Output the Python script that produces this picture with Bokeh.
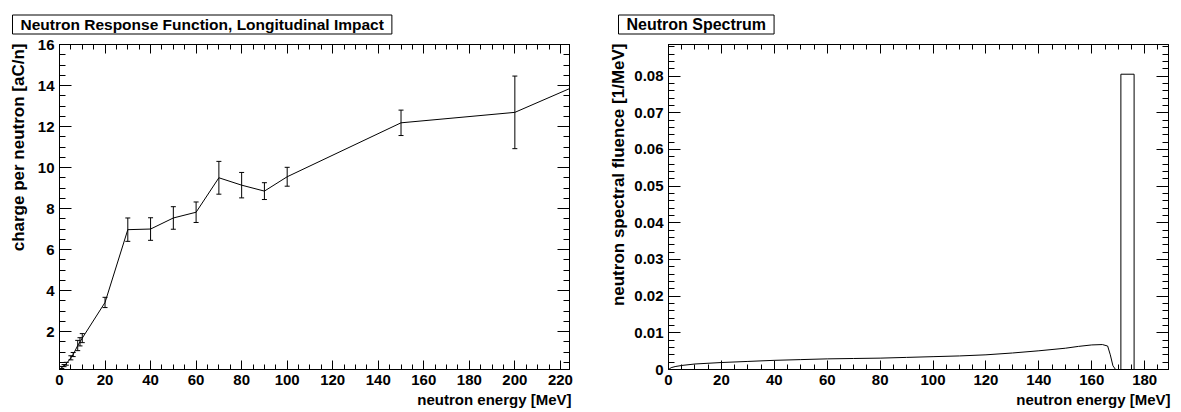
from bokeh.plotting import figure
from bokeh.layouts import row
from bokeh.models import (Range1d, FixedTicker, LinearAxis, Title,
                          CustomJSTickFormatter, ColumnDataSource)
from bokeh.embed import file_html
from bokeh.resources import INLINE

# ---------------- data ----------------
# Neutron response function (longitudinal impact)
resp_energy = [1, 2, 3, 5, 6, 8, 9, 10, 20, 30, 40, 50, 60, 70, 80, 90, 100, 150, 200, 250]
resp_charge = [0.25, 0.34, 0.43, 0.72, 0.88, 1.32, 1.50, 1.68, 3.42, 6.97, 7.00, 7.54, 7.82,
               9.50, 9.14, 8.85, 9.55, 12.18, 12.69, 15.10]
resp_error = [0.05, 0.05, 0.07, 0.10, 0.10, 0.25, 0.20, 0.22, 0.25, 0.57, 0.55, 0.55, 0.50,
              0.80, 0.62, 0.41, 0.46, 0.62, 1.77, 1.00]

# Neutron spectrum (continuum) and the narrow peak bin
spec_energy = [0, 1, 2.5, 5, 10, 20, 30, 40, 50, 60, 70, 80, 90, 100, 110, 120, 130, 140,
               150, 155, 160, 164, 166, 167, 168, 169]
spec_fluence = [0.0, 0.0005, 0.0008, 0.0011, 0.0015, 0.0019, 0.0022, 0.0025, 0.0027, 0.0029,
                0.0030, 0.0031, 0.0033, 0.0035, 0.0037, 0.0040, 0.0045, 0.0051, 0.0058,
                0.0063, 0.0067, 0.0068, 0.0064, 0.0040, 0.0010, 0.0]
peak_low = [171]
peak_high = [176]
peak_value = [0.0805]

left_xticks = [0, 20, 40, 60, 80, 100, 120, 140, 160, 180, 200, 220]
left_yticks = [2, 4, 6, 8, 10, 12, 14, 16]
right_xticks = [0, 20, 40, 60, 80, 100, 120, 140, 160, 180]
right_yticks = [0, 0.01, 0.02, 0.03, 0.04, 0.05, 0.06, 0.07, 0.08]

FONT = "Liberation Sans"
BLANK = CustomJSTickFormatter(code="return '';")


def style_axis(ax, ticker, tick_in, minor_in, show_labels=True, fmt=None):
    ax.ticker = ticker
    ax.major_tick_in = tick_in
    ax.major_tick_out = 0
    ax.minor_tick_in = minor_in
    ax.minor_tick_out = 0
    ax.axis_line_color = "black"
    ax.major_tick_line_color = "black"
    ax.minor_tick_line_color = "black"
    ax.major_label_text_font = FONT
    ax.major_label_text_font_style = "bold"
    ax.major_label_text_color = "black"
    ax.major_label_text_font_size = "15px"
    ax.major_label_standoff = 5
    if show_labels:
        if fmt is not None:
            ax.formatter = fmt
    else:
        ax.formatter = BLANK
        ax.major_label_standoff = 0
        ax.major_label_text_font_size = "1px"


def make_fig(xr, yr, bl, br, fw, xticks, xminor, yticks, yminor,
             title, title_off, title_size, title_standoff,
             xlabel, ylabel, ylabel_standoff, yfmt=None):
    t = Title(text=title, align="left", offset=title_off, text_font=FONT,
              text_font_style="bold", text_font_size=title_size, text_color="black",
              padding=(8, 1), standoff=title_standoff,
              border_line_color="black", border_line_width=1,
              background_fill_color="white")
    p = figure(frame_width=fw, frame_height=325,
               x_range=Range1d(*xr), y_range=Range1d(*yr),
               x_axis_type=None, y_axis_type=None, title=t,
               output_backend="svg", toolbar_location=None,
               min_border_left=bl, min_border_right=br,
               min_border_top=44, min_border_bottom=43)
    p.grid.visible = False
    p.outline_line_color = "black"
    p.outline_line_width = 1
    p.background_fill_color = "white"
    p.border_fill_color = "white"
    for loc, show in (("below", True), ("above", False)):
        ax = LinearAxis()
        style_axis(ax, FixedTicker(ticks=xticks, minor_ticks=xminor), 9, 5, show)
        p.add_layout(ax, loc)
    for loc, show in (("left", True), ("right", False)):
        ax = LinearAxis()
        style_axis(ax, FixedTicker(ticks=yticks, minor_ticks=yminor), 12, 6, show, yfmt)
        p.add_layout(ax, loc)
    p.add_layout(Title(text=xlabel, align="right", offset=-2, standoff=2,
                       text_font=FONT, text_font_style="bold", text_font_size="15px",
                       text_color="black"),
                 "below")
    p.add_layout(Title(text=ylabel, align="right", offset=-1, standoff=ylabel_standoff,
                       text_font=FONT, text_font_style="bold", text_font_size="17px",
                       text_color="black"),
                 "left")
    return p


# ---------------- left: response function ----------------
lx = (0, 224)
ly = (0.15, 16)
p1 = make_fig(lx, ly, 59, 31, 510, left_xticks,
              [v for v in range(0, 225, 5)], left_yticks,
              [v / 2 for v in range(0, 33)],
              "Neutron Response Function, Longitudinal Impact", -47, "15.5px", 21,
              "neutron energy [MeV]", "charge per neutron [aC/n]", 13)

src = ColumnDataSource(dict(
    x=resp_energy, y=resp_charge,
    lo=[c - e for c, e in zip(resp_charge, resp_error)],
    hi=[c + e for c, e in zip(resp_charge, resp_error)]))
p1.line("x", "y", source=src, line_color="black", line_width=1)
p1.segment(x0="x", y0="lo", x1="x", y1="hi", source=src, line_color="black", line_width=1)
p1.scatter("x", "lo", source=src, marker="dash", size=5, line_color="black", line_width=1)
p1.scatter("x", "hi", source=src, marker="dash", size=5, line_color="black", line_width=1)

# ---------------- right: neutron spectrum ----------------
rx = (0, 189)
ry = (0, 0.0886)
yfmt = CustomJSTickFormatter(code="return (Math.round(tick*1000)/1000).toString();")
p2 = make_fig(rx, ry, 68, 13, 500, right_xticks,
              [v for v in range(0, 190, 5)], right_yticks,
              [v * 0.002 for v in range(0, 45)],
              "Neutron Spectrum", -50, "16px", 21,
              "neutron energy [MeV]", "neutron spectral fluence [1/MeV]", 7, yfmt)
p2.line(spec_energy, spec_fluence, line_color="black", line_width=1)
p2.quad(left=peak_low, right=peak_high, bottom=[0] * len(peak_value), top=peak_value,
        fill_alpha=0, line_color="black", line_width=1)

layout = row(p1, p2)
open("out.html", "w").write(file_html(layout, INLINE))
